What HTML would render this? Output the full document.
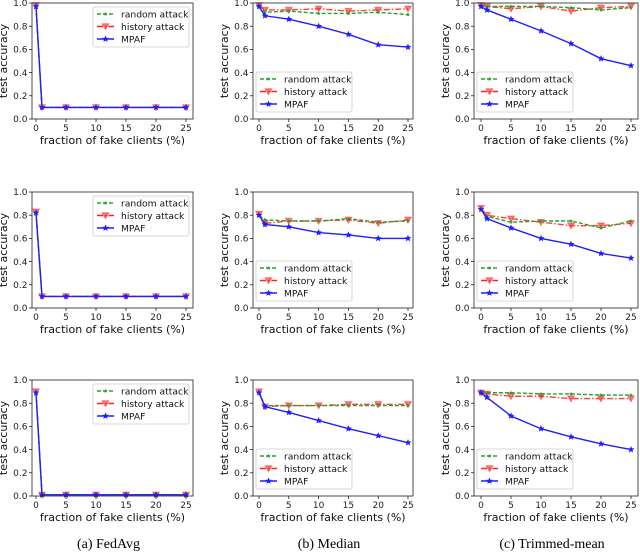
<!DOCTYPE html>
<html><head><meta charset="utf-8">
<style>
html,body{margin:0;padding:0;background:#fff;}
svg{display:block;font-family:"DejaVu Sans","Liberation Sans",sans-serif;}
</style></head>
<body>
<svg id="fig" width="640" height="555" viewBox="0 0 640 555" xmlns="http://www.w3.org/2000/svg"></svg>
<script>
const xs = [0, 1, 5, 10, 15, 20, 25];
const xTicks = [0, 5, 10, 15, 20, 25];
const yTicks = [0.0, 0.2, 0.4, 0.6, 0.8, 1.0];
const seriesNames = ["random attack", "history attack", "MPAF"];
const captions = ["(a) FedAvg", "(b) Median", "(c) Trimmed-mean"];
const columnNames = ["fedavg", "median", "trimmed-mean"];

// row 1
const fedavgRandom1 = [0.97, 0.10, 0.10, 0.10, 0.10, 0.10, 0.10];
const fedavgHistory1 = [0.98, 0.10, 0.10, 0.10, 0.10, 0.10, 0.10];
const fedavgMpaf1 = [0.97, 0.10, 0.10, 0.10, 0.10, 0.10, 0.10];
const medianRandom1 = [0.98, 0.92, 0.93, 0.91, 0.91, 0.92, 0.90];
const medianHistory1 = [0.98, 0.94, 0.94, 0.95, 0.93, 0.94, 0.95];
const medianMpaf1 = [0.97, 0.89, 0.86, 0.80, 0.73, 0.64, 0.62];
const trimRandom1 = [0.98, 0.97, 0.97, 0.97, 0.96, 0.94, 0.96];
const trimHistory1 = [0.98, 0.97, 0.95, 0.97, 0.93, 0.96, 0.97];
const trimMpaf1 = [0.97, 0.94, 0.86, 0.76, 0.65, 0.52, 0.46];
// row 2
const fedavgRandom2 = [0.82, 0.10, 0.10, 0.10, 0.10, 0.10, 0.10];
const fedavgHistory2 = [0.83, 0.10, 0.10, 0.10, 0.10, 0.10, 0.10];
const fedavgMpaf2 = [0.82, 0.10, 0.10, 0.10, 0.10, 0.10, 0.10];
const medianRandom2 = [0.80, 0.76, 0.75, 0.75, 0.77, 0.74, 0.75];
const medianHistory2 = [0.81, 0.73, 0.75, 0.75, 0.76, 0.73, 0.76];
const medianMpaf2 = [0.80, 0.72, 0.70, 0.65, 0.63, 0.60, 0.60];
const trimRandom2 = [0.85, 0.79, 0.74, 0.75, 0.75, 0.69, 0.75];
const trimHistory2 = [0.86, 0.80, 0.77, 0.74, 0.71, 0.71, 0.73];
const trimMpaf2 = [0.85, 0.77, 0.69, 0.60, 0.55, 0.47, 0.43];
// row 3
const fedavgRandom3 = [0.89, 0.01, 0.01, 0.01, 0.01, 0.01, 0.01];
const fedavgHistory3 = [0.90, 0.01, 0.01, 0.01, 0.01, 0.01, 0.01];
const fedavgMpaf3 = [0.89, 0.01, 0.01, 0.01, 0.01, 0.01, 0.01];
const medianRandom3 = [0.89, 0.78, 0.78, 0.78, 0.78, 0.78, 0.78];
const medianHistory3 = [0.90, 0.77, 0.78, 0.78, 0.79, 0.79, 0.79];
const medianMpaf3 = [0.89, 0.77, 0.72, 0.65, 0.58, 0.52, 0.46];
const trimRandom3 = [0.90, 0.89, 0.89, 0.88, 0.88, 0.87, 0.87];
const trimHistory3 = [0.89, 0.88, 0.86, 0.86, 0.84, 0.84, 0.84];
const trimMpaf3 = [0.89, 0.85, 0.69, 0.58, 0.51, 0.45, 0.40];

const grid = [
  [[fedavgRandom1, fedavgHistory1, fedavgMpaf1],[medianRandom1, medianHistory1, medianMpaf1],[trimRandom1, trimHistory1, trimMpaf1]],
  [[fedavgRandom2, fedavgHistory2, fedavgMpaf2],[medianRandom2, medianHistory2, medianMpaf2],[trimRandom2, trimHistory2, trimMpaf2]],
  [[fedavgRandom3, fedavgHistory3, fedavgMpaf3],[medianRandom3, medianHistory3, medianMpaf3],[trimRandom3, trimHistory3, trimMpaf3]]
];

const NS = "http://www.w3.org/2000/svg";
const svg = document.getElementById("fig");
function mk(tag, attrs, parent) {
  const e = document.createElementNS(NS, tag);
  for (const k in attrs) e.setAttribute(k, attrs[k]);
  (parent || svg).appendChild(e);
  return e;
}
const cols = [
  {l: 32, r: 193, x0: 36, x25: 186},
  {l: 253, r: 413, x0: 259, x25: 408},
  {l: 474, r: 638, x0: 481, x25: 631}
];
const rows = [{t: 3, b: 119}, {t: 192, b: 308}, {t: 380, b: 496}];
const styles = [
  {color: "#2ca02c", dash: "4,2", width: 1.4, marker: "dot"},
  {color: "#ff2020", dash: "6,2,1.5,2", width: 1.4, marker: "tri"},
  {color: "#1f1fff", dash: "", width: 1.4, marker: "star"}
];
function starPath(cx, cy, R) {
  let d = "";
  for (let i = 0; i < 10; i++) {
    const r = i % 2 ? R * 0.45 : R;
    const a = -Math.PI / 2 + i * Math.PI / 5;
    d += (i ? "L" : "M") + (cx + r * Math.cos(a)).toFixed(2) + "," + (cy + r * Math.sin(a)).toFixed(2);
  }
  return d + "Z";
}
function marker(g, kind, color, cx, cy) {
  let m;
  if (kind === "dot") {
    m = mk("path", {d: starPath(cx, cy, 2.2), fill: color}, g);
  } else if (kind === "tri") {
    m = mk("path", {d: `M${cx-3.3},${cy-2.7}L${cx+3.3},${cy-2.7}L${cx},${cy+3.2}Z`, fill: color, "fill-opacity": 0.6, stroke: color, "stroke-opacity": 0.5, "stroke-width": 1}, g);
  } else {
    m = mk("path", {d: starPath(cx, cy, 3.6), fill: color}, g);
  }
  return m;
}

for (let r = 0; r < 3; r++) {
  for (let c = 0; c < 3; c++) {
    const C = cols[c], R = rows[r];
    const sx = v => C.x0 + (v / 25) * (C.x25 - C.x0);
    const sy = v => R.b - v * (R.b - R.t);
    const g = mk("g", {});
    
    
    xTicks.forEach(t => {
      mk("line", {x1: sx(t), x2: sx(t), y1: R.b, y2: R.b + 3, stroke: "#000", "stroke-width": 0.7}, g);
      const tl = mk("text", {x: sx(t), y: R.b + 12, "font-size": 9, "text-anchor": "middle", fill: "#222"}, g);
      tl.textContent = t;
      
      
    });
    yTicks.forEach(t => {
      mk("line", {x1: C.l - 3, x2: C.l, y1: sy(t), y2: sy(t), stroke: "#000", "stroke-width": 0.7}, g);
      const tl = mk("text", {x: C.l - 4.5, y: sy(t) + 3.2, "font-size": 9, "text-anchor": "end", fill: "#222"}, g);
      tl.textContent = t.toFixed(1);
      
      
    });
    const xl = mk("text", {x: (C.l + C.r) / 2, y: R.b + 25, "font-size": 11, "text-anchor": "middle", fill: "#111"}, g);
    xl.textContent = "fraction of fake clients (%)";
    
    
    const ycx = C.l - 25, ycy = (R.t + R.b) / 2;
    const yl = mk("text", {x: ycx, y: ycy, "font-size": 11, "text-anchor": "middle", fill: "#111", transform: `rotate(-90 ${ycx} ${ycy})`}, g);
    yl.textContent = "test accuracy";
    
    
    [1, 0, 2].forEach(si => {
      const vals = grid[r][c][si], st = styles[si];
      const sg = mk("g", {}, g);
      
      
      const pts = xs.map((x, i) => sx(x).toFixed(2) + "," + sy(vals[i]).toFixed(2)).join(" ");
      const pl = mk("polyline", {points: pts, fill: "none", stroke: st.color, "stroke-width": st.width, "stroke-dasharray": st.dash, "stroke-opacity": si === 1 ? 0.85 : 1}, sg);
      
      
      xs.forEach((x, i) => {
        const m = marker(sg, st.marker, st.color, sx(x), sy(vals[i]));
        
        
      });
    });
    const fr = mk("rect", {x: C.l, y: R.t, width: C.r - C.l, height: R.b - R.t, fill: "none", stroke: "#222", "stroke-width": 0.8}, g);
    
    
    const lw = 96, lh = 40;
    let lx, ly;
    if (c === 0) { lx = C.r - 4 - lw; ly = R.t + 4; }
    else { lx = C.l + 3; ly = R.b - 7 - lh; }
    const lg = mk("g", {}, g);
    
    
    mk("rect", {x: lx, y: ly, width: lw, height: lh, rx: 2, fill: "#fff", "fill-opacity": 0.85, stroke: "#ccc", "stroke-width": 0.8}, lg);
    seriesNames.forEach((nm, si) => {
      const st = styles[si];
      const ey = ly + 7 + si * 12.5;
      const eg = mk("g", {}, lg);
      
      
      mk("line", {x1: lx + 4, x2: lx + 21, y1: ey, y2: ey, stroke: st.color, "stroke-width": st.width, "stroke-dasharray": st.dash}, eg);
      marker(eg, st.marker, st.color, lx + 12.5, ey);
      const t = mk("text", {x: lx + 28, y: ey + 3.3, "font-size": 9.2, fill: "#111"}, eg);
      t.textContent = nm;
    });
  }
}
captions.forEach((cap, c) => {
  const C = cols[c];
  const t = mk("text", {x: (C.l + C.r) / 2 - 4, y: 548, "font-size": 14, "text-anchor": "middle", fill: "#000", "font-family": "Liberation Serif, serif"});
  t.textContent = cap;
  
  
});
</script>
</body></html>
